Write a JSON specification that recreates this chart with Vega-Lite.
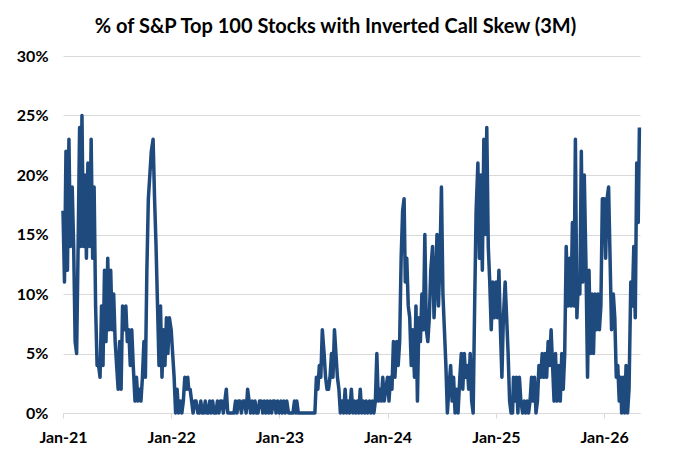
{
  "$schema": "https://vega.github.io/schema/vega-lite/v6.json",
  "width": 577,
  "height": 357,
  "autosize": "none",
  "padding": {"left": 63, "top": 56, "right": 38, "bottom": 54},
  "background": "white",
  "title": {
    "text": "% of S&P Top 100 Stocks with Inverted Call Skew (3M)",
    "font": "Lato",
    "fontSize": 20,
    "fontWeight": "bold",
    "color": "black",
    "anchor": "middle",
    "frame": "group",
    "dx": -16,
    "offset": 11
  },
  "data": {
    "values": [
      {"date":"2021-01-01","pct":17},{"date":"2021-01-06","pct":11},{"date":"2021-01-11","pct":22},{"date":"2021-01-16","pct":12},{"date":"2021-01-21","pct":23},{"date":"2021-01-26","pct":14},
      {"date":"2021-02-01","pct":19},{"date":"2021-02-06","pct":14},{"date":"2021-02-11","pct":6},{"date":"2021-02-16","pct":5},{"date":"2021-02-21","pct":14},{"date":"2021-02-26","pct":24},
      {"date":"2021-03-01","pct":14},{"date":"2021-03-06","pct":25},{"date":"2021-03-11","pct":14},{"date":"2021-03-16","pct":20},{"date":"2021-03-21","pct":13},{"date":"2021-03-26","pct":21},
      {"date":"2021-04-01","pct":14},{"date":"2021-04-06","pct":23},{"date":"2021-04-11","pct":13},{"date":"2021-04-16","pct":19},{"date":"2021-04-21","pct":9},{"date":"2021-04-26","pct":4},
      {"date":"2021-05-01","pct":4},{"date":"2021-05-06","pct":3},{"date":"2021-05-11","pct":9},{"date":"2021-05-16","pct":4},{"date":"2021-05-21","pct":12},{"date":"2021-05-26","pct":6},
      {"date":"2021-06-01","pct":13},{"date":"2021-06-06","pct":7},{"date":"2021-06-11","pct":12},{"date":"2021-06-16","pct":7},{"date":"2021-06-21","pct":10},{"date":"2021-06-26","pct":6},
      {"date":"2021-07-01","pct":4},{"date":"2021-07-06","pct":2},{"date":"2021-07-11","pct":6},{"date":"2021-07-16","pct":2},{"date":"2021-07-21","pct":9},{"date":"2021-07-26","pct":7},
      {"date":"2021-08-01","pct":9},{"date":"2021-08-06","pct":6},{"date":"2021-08-11","pct":7},{"date":"2021-08-16","pct":4},{"date":"2021-08-21","pct":7},{"date":"2021-08-26","pct":4},
      {"date":"2021-09-01","pct":1},{"date":"2021-09-06","pct":3},{"date":"2021-09-11","pct":1},{"date":"2021-09-16","pct":2},{"date":"2021-09-21","pct":1},{"date":"2021-09-26","pct":3},
      {"date":"2021-10-01","pct":6},{"date":"2021-10-06","pct":3},{"date":"2021-10-11","pct":12},{"date":"2021-10-16","pct":18},{"date":"2021-10-21","pct":20},{"date":"2021-10-26","pct":22},
      {"date":"2021-11-01","pct":23},{"date":"2021-11-06","pct":18},{"date":"2021-11-11","pct":14},{"date":"2021-11-16","pct":9},{"date":"2021-11-21","pct":4},{"date":"2021-11-26","pct":9},
      {"date":"2021-12-01","pct":3},{"date":"2021-12-06","pct":7},{"date":"2021-12-11","pct":4},{"date":"2021-12-16","pct":8},{"date":"2021-12-21","pct":5},{"date":"2021-12-26","pct":8},
      {"date":"2022-01-01","pct":7},{"date":"2022-01-06","pct":5},{"date":"2022-01-11","pct":3},{"date":"2022-01-16","pct":0},{"date":"2022-01-21","pct":2},{"date":"2022-01-26","pct":0},
      {"date":"2022-02-01","pct":1},{"date":"2022-02-06","pct":0},{"date":"2022-02-11","pct":1},{"date":"2022-02-16","pct":3},{"date":"2022-02-21","pct":2},{"date":"2022-02-26","pct":3},
      {"date":"2022-03-01","pct":2},{"date":"2022-03-06","pct":2},{"date":"2022-03-11","pct":1},{"date":"2022-03-16","pct":0},{"date":"2022-03-21","pct":1},{"date":"2022-03-26","pct":1},
      {"date":"2022-04-01","pct":0},{"date":"2022-04-06","pct":0},{"date":"2022-04-11","pct":1},{"date":"2022-04-16","pct":0},{"date":"2022-04-21","pct":0},{"date":"2022-04-26","pct":1},
      {"date":"2022-05-01","pct":0},{"date":"2022-05-06","pct":0},{"date":"2022-05-11","pct":1},{"date":"2022-05-16","pct":0},{"date":"2022-05-21","pct":1},{"date":"2022-05-26","pct":0},
      {"date":"2022-06-01","pct":0},{"date":"2022-06-06","pct":1},{"date":"2022-06-11","pct":0},{"date":"2022-06-16","pct":1},{"date":"2022-06-21","pct":1},{"date":"2022-06-26","pct":0},
      {"date":"2022-07-01","pct":1},{"date":"2022-07-06","pct":2},{"date":"2022-07-11","pct":0},{"date":"2022-07-16","pct":0},{"date":"2022-07-21","pct":0},{"date":"2022-07-26","pct":0},
      {"date":"2022-08-01","pct":0},{"date":"2022-08-06","pct":1},{"date":"2022-08-11","pct":0},{"date":"2022-08-16","pct":1},{"date":"2022-08-21","pct":1},{"date":"2022-08-26","pct":0},
      {"date":"2022-09-01","pct":1},{"date":"2022-09-06","pct":1},{"date":"2022-09-11","pct":0},{"date":"2022-09-16","pct":2},{"date":"2022-09-21","pct":1},{"date":"2022-09-26","pct":0},
      {"date":"2022-10-01","pct":1},{"date":"2022-10-06","pct":0},{"date":"2022-10-11","pct":1},{"date":"2022-10-16","pct":0},{"date":"2022-10-21","pct":0},{"date":"2022-10-26","pct":1},
      {"date":"2022-11-01","pct":1},{"date":"2022-11-06","pct":0},{"date":"2022-11-11","pct":1},{"date":"2022-11-16","pct":0},{"date":"2022-11-21","pct":1},{"date":"2022-11-26","pct":0},
      {"date":"2022-12-01","pct":1},{"date":"2022-12-06","pct":0},{"date":"2022-12-11","pct":1},{"date":"2022-12-16","pct":1},{"date":"2022-12-21","pct":0},{"date":"2022-12-26","pct":1},
      {"date":"2023-01-01","pct":0},{"date":"2023-01-06","pct":1},{"date":"2023-01-11","pct":0},{"date":"2023-01-16","pct":1},{"date":"2023-01-21","pct":0},{"date":"2023-01-26","pct":1},
      {"date":"2023-02-01","pct":0},{"date":"2023-02-06","pct":0},{"date":"2023-02-11","pct":0},{"date":"2023-02-16","pct":0},{"date":"2023-02-21","pct":1},{"date":"2023-02-26","pct":0},
      {"date":"2023-03-01","pct":1},{"date":"2023-03-06","pct":0},{"date":"2023-03-11","pct":0},{"date":"2023-03-16","pct":0},{"date":"2023-03-21","pct":0},{"date":"2023-03-26","pct":0},
      {"date":"2023-04-01","pct":0},{"date":"2023-04-06","pct":0},{"date":"2023-04-11","pct":0},{"date":"2023-04-16","pct":0},{"date":"2023-04-21","pct":0},{"date":"2023-04-26","pct":0},
      {"date":"2023-05-01","pct":0},{"date":"2023-05-06","pct":3},{"date":"2023-05-11","pct":2},{"date":"2023-05-16","pct":4},{"date":"2023-05-21","pct":3},{"date":"2023-05-26","pct":7},
      {"date":"2023-06-01","pct":5},{"date":"2023-06-06","pct":3},{"date":"2023-06-11","pct":2},{"date":"2023-06-16","pct":2},{"date":"2023-06-21","pct":3},{"date":"2023-06-26","pct":5},
      {"date":"2023-07-01","pct":3},{"date":"2023-07-06","pct":7},{"date":"2023-07-11","pct":5},{"date":"2023-07-16","pct":3},{"date":"2023-07-21","pct":2},{"date":"2023-07-26","pct":0},
      {"date":"2023-08-01","pct":1},{"date":"2023-08-06","pct":0},{"date":"2023-08-11","pct":2},{"date":"2023-08-16","pct":0},{"date":"2023-08-21","pct":1},{"date":"2023-08-26","pct":0},
      {"date":"2023-09-01","pct":2},{"date":"2023-09-06","pct":0},{"date":"2023-09-11","pct":1},{"date":"2023-09-16","pct":0},{"date":"2023-09-21","pct":1},{"date":"2023-09-26","pct":0},
      {"date":"2023-10-01","pct":2},{"date":"2023-10-06","pct":0},{"date":"2023-10-11","pct":1},{"date":"2023-10-16","pct":0},{"date":"2023-10-21","pct":1},{"date":"2023-10-26","pct":0},
      {"date":"2023-11-01","pct":1},{"date":"2023-11-06","pct":0},{"date":"2023-11-11","pct":1},{"date":"2023-11-16","pct":0},{"date":"2023-11-21","pct":1},{"date":"2023-11-26","pct":5},
      {"date":"2023-12-01","pct":1},{"date":"2023-12-06","pct":2},{"date":"2023-12-11","pct":1},{"date":"2023-12-16","pct":3},{"date":"2023-12-21","pct":1},{"date":"2023-12-26","pct":2},
      {"date":"2024-01-01","pct":3},{"date":"2024-01-06","pct":1},{"date":"2024-01-11","pct":3},{"date":"2024-01-16","pct":2},{"date":"2024-01-21","pct":6},{"date":"2024-01-26","pct":3},
      {"date":"2024-02-01","pct":6},{"date":"2024-02-06","pct":4},{"date":"2024-02-11","pct":6},{"date":"2024-02-16","pct":13},{"date":"2024-02-21","pct":17},{"date":"2024-02-26","pct":18},
      {"date":"2024-03-01","pct":11},{"date":"2024-03-06","pct":13},{"date":"2024-03-11","pct":9},{"date":"2024-03-16","pct":8},{"date":"2024-03-21","pct":4},{"date":"2024-03-26","pct":7},
      {"date":"2024-04-01","pct":3},{"date":"2024-04-06","pct":9},{"date":"2024-04-11","pct":1},{"date":"2024-04-16","pct":8},{"date":"2024-04-21","pct":6},{"date":"2024-04-26","pct":10},
      {"date":"2024-05-01","pct":7},{"date":"2024-05-06","pct":15},{"date":"2024-05-11","pct":7},{"date":"2024-05-16","pct":6},{"date":"2024-05-21","pct":8},{"date":"2024-05-26","pct":12},
      {"date":"2024-06-01","pct":14},{"date":"2024-06-06","pct":8},{"date":"2024-06-11","pct":11},{"date":"2024-06-16","pct":15},{"date":"2024-06-21","pct":9},{"date":"2024-06-26","pct":13},
      {"date":"2024-07-01","pct":19},{"date":"2024-07-06","pct":10},{"date":"2024-07-11","pct":7},{"date":"2024-07-16","pct":4},{"date":"2024-07-21","pct":0},{"date":"2024-07-26","pct":2},
      {"date":"2024-08-01","pct":4},{"date":"2024-08-06","pct":1},{"date":"2024-08-11","pct":3},{"date":"2024-08-16","pct":0},{"date":"2024-08-21","pct":2},{"date":"2024-08-26","pct":0},
      {"date":"2024-09-01","pct":3},{"date":"2024-09-06","pct":5},{"date":"2024-09-11","pct":2},{"date":"2024-09-16","pct":5},{"date":"2024-09-21","pct":3},{"date":"2024-09-26","pct":4},
      {"date":"2024-10-01","pct":2},{"date":"2024-10-06","pct":5},{"date":"2024-10-11","pct":1},{"date":"2024-10-16","pct":0},{"date":"2024-10-21","pct":9},{"date":"2024-10-26","pct":17},
      {"date":"2024-11-01","pct":21},{"date":"2024-11-06","pct":13},{"date":"2024-11-11","pct":20},{"date":"2024-11-16","pct":12},{"date":"2024-11-21","pct":23},{"date":"2024-11-26","pct":15},
      {"date":"2024-12-01","pct":24},{"date":"2024-12-06","pct":14},{"date":"2024-12-11","pct":11},{"date":"2024-12-16","pct":7},{"date":"2024-12-21","pct":11},{"date":"2024-12-26","pct":8},
      {"date":"2025-01-01","pct":11},{"date":"2025-01-06","pct":8},{"date":"2025-01-11","pct":12},{"date":"2025-01-16","pct":7},{"date":"2025-01-21","pct":3},{"date":"2025-01-26","pct":8},
      {"date":"2025-02-01","pct":11},{"date":"2025-02-06","pct":8},{"date":"2025-02-11","pct":5},{"date":"2025-02-16","pct":1},{"date":"2025-02-21","pct":0},{"date":"2025-02-26","pct":0},
      {"date":"2025-03-01","pct":3},{"date":"2025-03-06","pct":1},{"date":"2025-03-11","pct":3},{"date":"2025-03-16","pct":0},{"date":"2025-03-21","pct":3},{"date":"2025-03-26","pct":1},
      {"date":"2025-04-01","pct":0},{"date":"2025-04-06","pct":1},{"date":"2025-04-11","pct":0},{"date":"2025-04-16","pct":1},{"date":"2025-04-21","pct":0},{"date":"2025-04-26","pct":1},
      {"date":"2025-05-01","pct":3},{"date":"2025-05-06","pct":1},{"date":"2025-05-11","pct":3},{"date":"2025-05-16","pct":0},{"date":"2025-05-21","pct":1},{"date":"2025-05-26","pct":4},
      {"date":"2025-06-01","pct":3},{"date":"2025-06-06","pct":5},{"date":"2025-06-11","pct":3},{"date":"2025-06-16","pct":5},{"date":"2025-06-21","pct":3},{"date":"2025-06-26","pct":6},
      {"date":"2025-07-01","pct":4},{"date":"2025-07-06","pct":7},{"date":"2025-07-11","pct":4},{"date":"2025-07-16","pct":1},{"date":"2025-07-21","pct":5},{"date":"2025-07-26","pct":1},
      {"date":"2025-08-01","pct":4},{"date":"2025-08-06","pct":1},{"date":"2025-08-11","pct":5},{"date":"2025-08-16","pct":2},{"date":"2025-08-21","pct":5},{"date":"2025-08-26","pct":14},
      {"date":"2025-09-01","pct":9},{"date":"2025-09-06","pct":13},{"date":"2025-09-11","pct":9},{"date":"2025-09-16","pct":16},{"date":"2025-09-21","pct":9},{"date":"2025-09-26","pct":23},
      {"date":"2025-10-01","pct":8},{"date":"2025-10-06","pct":11},{"date":"2025-10-11","pct":10},{"date":"2025-10-16","pct":22},{"date":"2025-10-21","pct":11},{"date":"2025-10-26","pct":20},
      {"date":"2025-11-01","pct":12},{"date":"2025-11-06","pct":3},{"date":"2025-11-11","pct":12},{"date":"2025-11-16","pct":5},{"date":"2025-11-21","pct":10},{"date":"2025-11-26","pct":5},
      {"date":"2025-12-01","pct":10},{"date":"2025-12-06","pct":7},{"date":"2025-12-11","pct":10},{"date":"2025-12-16","pct":7},{"date":"2025-12-21","pct":9},{"date":"2025-12-26","pct":18},
      {"date":"2026-01-01","pct":18},{"date":"2026-01-06","pct":13},{"date":"2026-01-11","pct":18},{"date":"2026-01-16","pct":19},{"date":"2026-01-21","pct":13},{"date":"2026-01-26","pct":7},
      {"date":"2026-02-01","pct":10},{"date":"2026-02-06","pct":8},{"date":"2026-02-11","pct":3},{"date":"2026-02-16","pct":4},{"date":"2026-02-21","pct":1},{"date":"2026-02-26","pct":3},
      {"date":"2026-03-01","pct":0},{"date":"2026-03-06","pct":3},{"date":"2026-03-11","pct":0},{"date":"2026-03-16","pct":4},{"date":"2026-03-21","pct":0},{"date":"2026-03-26","pct":2},
      {"date":"2026-04-01","pct":11},{"date":"2026-04-06","pct":9},{"date":"2026-04-11","pct":14},{"date":"2026-04-16","pct":8},{"date":"2026-04-21","pct":21},{"date":"2026-04-26","pct":16},
      {"date":"2026-04-30","pct":24}
    ]
  },
  "mark": {"type": "line", "color": "#1f4a7e", "strokeWidth": 3.5, "strokeJoin": "round"},
  "encoding": {
    "x": {
      "field": "date",
      "type": "temporal",
      "title": null,
      "scale": {
        "type": "utc",
        "domain": [
          {"year": 2021, "month": 1, "date": 1, "utc": true},
          {"year": 2026, "month": 5, "date": 2, "utc": true}
        ]
      },
      "axis": {
        "values": [
          {"year": 2021, "month": 1, "date": 1, "utc": true},
          {"year": 2022, "month": 1, "date": 1, "utc": true},
          {"year": 2023, "month": 1, "date": 1, "utc": true},
          {"year": 2024, "month": 1, "date": 1, "utc": true},
          {"year": 2025, "month": 1, "date": 1, "utc": true},
          {"year": 2026, "month": 1, "date": 1, "utc": true}
        ],
        "format": "%b-%y",
        "grid": false,
        "domainColor": "#d9d9d9",
        "tickColor": "#d9d9d9",
        "tickSize": 5,
        "labelPadding": 11,
        "labelFont": "Lato",
        "labelFontSize": 16,
        "labelFontWeight": "bold",
        "labelColor": "black",
        "labelFlush": false
      }
    },
    "y": {
      "field": "pct",
      "type": "quantitative",
      "title": null,
      "scale": {"domain": [0, 30], "nice": false},
      "axis": {
        "values": [0, 5, 10, 15, 20, 25, 30],
        "labelExpr": "datum.value + '%'",
        "domain": false,
        "ticks": false,
        "gridColor": "#d9d9d9",
        "labelPadding": 15,
        "labelFont": "Lato",
        "labelFontSize": 16,
        "labelFontWeight": "bold",
        "labelColor": "black"
      }
    }
  },
  "config": {"view": {"stroke": null}}
}
